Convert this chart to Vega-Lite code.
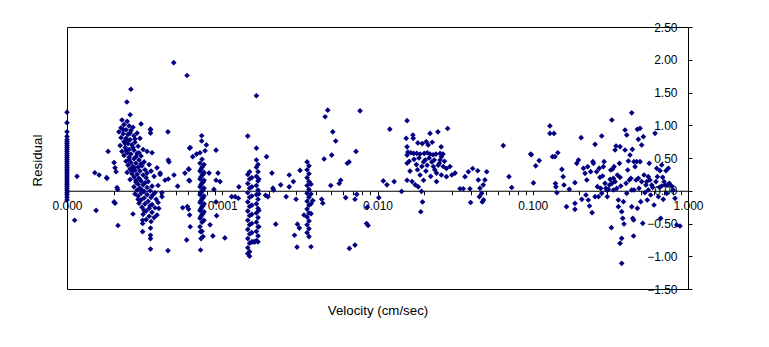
{
"$schema": "https://vega.github.io/schema/vega-lite/v6.json",
"width": 621, "height": 262,
"autosize": {"type": "none"},
"padding": {"left": 67, "top": 27, "right": 81, "bottom": 58},
"background": "white",
"config": {"view": {"stroke": "black", "strokeWidth": 1}, "font": "Liberation Sans"},
"data": {"values": [
{"vel":0.0001,"res":1.2},{"vel":0.0001,"res":1.04},{"vel":0.0001,"res":0.9},{"vel":0.0001,"res":0.83},{"vel":0.0001,"res":0.78},{"vel":0.0001,"res":0.75},{"vel":0.0001,"res":0.72},{"vel":0.0001,"res":0.69},{"vel":0.0001,"res":0.66},{"vel":0.0001,"res":0.63},{"vel":0.0001,"res":0.6},{"vel":0.0001,"res":0.57},{"vel":0.0001,"res":0.54},{"vel":0.0001,"res":0.51},{"vel":0.0001,"res":0.48},{"vel":0.0001,"res":0.45},{"vel":0.0001,"res":0.42},{"vel":0.0001,"res":0.39},{"vel":0.0001,"res":0.36},{"vel":0.0001,"res":0.33},{"vel":0.0001,"res":0.3},{"vel":0.0001,"res":0.27},{"vel":0.0001,"res":0.24},{"vel":0.0001,"res":0.21},{"vel":0.0001,"res":0.18},{"vel":0.0001,"res":0.15},{"vel":0.0001,"res":0.12},{"vel":0.0001,"res":0.09},{"vel":0.0001,"res":0.06},{"vel":0.0001,"res":0.03},{"vel":0.0001,"res":0.0},{"vel":0.0001,"res":-0.03},{"vel":0.0001,"res":-0.06},{"vel":0.0001,"res":-0.1},{"vel":0.0001,"res":-0.14},
{"vel":0.000116,"res":0.22},{"vel":0.000112,"res":-0.45},{"vel":0.000154,"res":-0.3},{"vel":0.000151,"res":0.275},{"vel":0.000161,"res":0.24},{"vel":0.000181,"res":0.19},{"vel":0.000184,"res":0.6},{"vel":0.000201,"res":0.43},{"vel":0.000204,"res":0.35},{"vel":0.000207,"res":0.29},{"vel":0.00021,"res":0.05},{"vel":0.000212,"res":0.02},{"vel":0.000201,"res":-0.17},{"vel":0.000204,"res":-0.19},{"vel":0.000213,"res":-0.53},{"vel":0.00018,"res":0.2},
{"vel":0.000226,"res":1.08},{"vel":0.000244,"res":1.06},{"vel":0.000233,"res":1.01},{"vel":0.000251,"res":0.99},{"vel":0.000223,"res":0.96},{"vel":0.000266,"res":0.97},{"vel":0.00024,"res":0.93},{"vel":0.000258,"res":0.92},{"vel":0.000216,"res":0.9},{"vel":0.00023,"res":0.87},{"vel":0.000283,"res":0.88},{"vel":0.000247,"res":0.86},{"vel":0.00027,"res":0.84},{"vel":0.000223,"res":0.81},{"vel":0.00024,"res":0.8},{"vel":0.000255,"res":0.78},{"vel":0.000295,"res":0.8},{"vel":0.000233,"res":0.75},{"vel":0.000274,"res":0.74},{"vel":0.000247,"res":0.72},{"vel":0.000262,"res":0.7},{"vel":0.00022,"res":0.69},{"vel":0.000287,"res":0.68},{"vel":0.000237,"res":0.66},{"vel":0.000251,"res":0.63},{"vel":0.00027,"res":0.62},{"vel":0.000226,"res":0.6},{"vel":0.000309,"res":0.63},{"vel":0.000244,"res":0.58},{"vel":0.000258,"res":0.56},{"vel":0.000283,"res":0.57},{"vel":0.000233,"res":0.54},{"vel":0.0003,"res":0.53},{"vel":0.000328,"res":0.6},{"vel":0.000353,"res":0.58},
{"vel":0.000251,"res":0.51},{"vel":0.00027,"res":0.49},{"vel":0.000291,"res":0.47},{"vel":0.00024,"res":0.45},{"vel":0.000258,"res":0.43},{"vel":0.000278,"res":0.42},{"vel":0.000314,"res":0.44},{"vel":0.000247,"res":0.39},{"vel":0.000266,"res":0.37},{"vel":0.000287,"res":0.36},{"vel":0.000304,"res":0.38},{"vel":0.000338,"res":0.4},{"vel":0.000255,"res":0.33},{"vel":0.000274,"res":0.31},{"vel":0.000295,"res":0.3},{"vel":0.000318,"res":0.32},{"vel":0.000244,"res":0.28},{"vel":0.000262,"res":0.26},{"vel":0.000283,"res":0.25},{"vel":0.000309,"res":0.24},{"vel":0.000348,"res":0.3},{"vel":0.00038,"res":0.35},{"vel":0.00027,"res":0.21},{"vel":0.000291,"res":0.19},{"vel":0.000323,"res":0.2},{"vel":0.000255,"res":0.17},{"vel":0.0003,"res":0.15},{"vel":0.000278,"res":0.13},{"vel":0.000333,"res":0.14},{"vel":0.000364,"res":0.22},{"vel":0.000398,"res":0.25},
{"vel":0.000287,"res":0.1},{"vel":0.000309,"res":0.09},{"vel":0.00027,"res":0.06},{"vel":0.000328,"res":0.05},{"vel":0.000295,"res":0.04},{"vel":0.000353,"res":0.07},{"vel":0.000283,"res":0.01},{"vel":0.000314,"res":-0.01},{"vel":0.000343,"res":0.0},{"vel":0.0003,"res":-0.04},{"vel":0.000328,"res":-0.06},{"vel":0.000369,"res":-0.03},{"vel":0.000287,"res":-0.08},{"vel":0.000314,"res":-0.11},{"vel":0.000348,"res":-0.1},{"vel":0.0003,"res":-0.14},{"vel":0.000333,"res":-0.16},{"vel":0.000375,"res":-0.13},{"vel":0.000291,"res":-0.19},{"vel":0.000318,"res":-0.2},{"vel":0.000353,"res":-0.21},{"vel":0.000304,"res":-0.25},{"vel":0.000338,"res":-0.27},{"vel":0.000369,"res":-0.26},{"vel":0.000323,"res":-0.31},{"vel":0.000353,"res":-0.33},{"vel":0.000309,"res":-0.36},{"vel":0.000338,"res":-0.39},{"vel":0.000364,"res":-0.41},{"vel":0.000323,"res":-0.44},{"vel":0.000348,"res":-0.47},{"vel":0.00038,"res":-0.37},{"vel":0.000386,"res":-0.18},{"vel":0.000274,"res":-0.05},{"vel":0.000278,"res":0.16},{"vel":0.000386,"res":0.08},
{"vel":0.00023,"res":0.93},{"vel":0.000255,"res":0.88},{"vel":0.000274,"res":0.79},{"vel":0.000244,"res":0.76},{"vel":0.000266,"res":0.66},{"vel":0.00024,"res":0.62},{"vel":0.000278,"res":0.52},{"vel":0.000251,"res":0.47},{"vel":0.0003,"res":0.41},{"vel":0.00027,"res":0.35},{"vel":0.000237,"res":0.72},{"vel":0.000291,"res":0.58},{"vel":0.000262,"res":0.3},{"vel":0.000318,"res":0.12},{"vel":0.000343,"res":-0.23},{"vel":0.000314,"res":-0.3},{"vel":0.000328,"res":0.27},{"vel":0.000304,"res":0.01},{"vel":0.000287,"res":-0.13},{"vel":0.000358,"res":-0.06},
{"vel":0.000258,"res":1.55},{"vel":0.000243,"res":1.355},{"vel":0.000255,"res":1.16},{"vel":0.000345,"res":0.93},{"vel":0.000345,"res":0.88},{"vel":0.000447,"res":0.9},{"vel":0.000449,"res":0.47},{"vel":0.000454,"res":0.44},{"vel":0.000489,"res":0.24},{"vel":0.000516,"res":0.07},{"vel":0.000428,"res":0.16},{"vel":0.000449,"res":0.18},{"vel":0.000398,"res":0.27},{"vel":0.000409,"res":-0.03},{"vel":0.000409,"res":-0.09},{"vel":0.00039,"res":-0.27},{"vel":0.000345,"res":-0.57},{"vel":0.000345,"res":-0.68},{"vel":0.000345,"res":-0.73},{"vel":0.000345,"res":-0.89},{"vel":0.000447,"res":-0.915},{"vel":0.000307,"res":-0.625},{"vel":0.000307,"res":-0.45},{"vel":0.000307,"res":-0.5},{"vel":0.000266,"res":-0.355},{"vel":0.000487,"res":1.955},{"vel":0.000593,"res":1.76},{"vel":0.0003,"res":1.02},{"vel":0.000345,"res":0.94},
{"vel":0.000719,"res":0.42},{"vel":0.000719,"res":0.3},{"vel":0.000719,"res":0.18},{"vel":0.000719,"res":0.06},{"vel":0.000719,"res":-0.06},{"vel":0.000719,"res":-0.18},{"vel":0.000719,"res":-0.3},{"vel":0.000719,"res":-0.42},{"vel":0.000719,"res":-0.55},
{"vel":0.000741,"res":0.48},{"vel":0.000741,"res":0.36},{"vel":0.000741,"res":0.24},{"vel":0.000741,"res":0.12},{"vel":0.000741,"res":0.0},{"vel":0.000741,"res":-0.12},{"vel":0.000741,"res":-0.24},{"vel":0.000741,"res":-0.36},{"vel":0.000741,"res":-0.48},{"vel":0.000741,"res":-0.62},
{"vel":0.000763,"res":0.4},{"vel":0.000763,"res":0.28},{"vel":0.000763,"res":0.16},{"vel":0.000763,"res":0.04},{"vel":0.000763,"res":-0.08},{"vel":0.000763,"res":-0.2},{"vel":0.000763,"res":-0.32},{"vel":0.000763,"res":-0.45},
{"vel":0.00073,"res":0.33},{"vel":0.00073,"res":0.21},{"vel":0.00073,"res":0.09},{"vel":0.00073,"res":-0.03},{"vel":0.00073,"res":-0.15},{"vel":0.00073,"res":-0.27},{"vel":0.00073,"res":-0.39},
{"vel":0.000752,"res":0.25},{"vel":0.000752,"res":0.13},{"vel":0.000752,"res":0.01},{"vel":0.000752,"res":-0.11},{"vel":0.000752,"res":-0.23},{"vel":0.000752,"res":-0.35},{"vel":0.000752,"res":-0.7},
{"vel":0.000616,"res":0.65},{"vel":0.000645,"res":0.52},{"vel":0.000683,"res":0.56},{"vel":0.000719,"res":0.58},{"vel":0.000737,"res":0.84},{"vel":0.000737,"res":0.76},{"vel":0.00079,"res":0.7},{"vel":0.000611,"res":0.33},{"vel":0.000611,"res":0.16},{"vel":0.000556,"res":-0.26},{"vel":0.000596,"res":-0.24},{"vel":0.000606,"res":-0.28},{"vel":0.000616,"res":-0.37},{"vel":0.000622,"res":-0.55},{"vel":0.00059,"res":-0.75},{"vel":0.000725,"res":-0.625},{"vel":0.00073,"res":-0.73},{"vel":0.000725,"res":-0.905},{"vel":0.000575,"res":0.27},{"vel":0.000606,"res":0.33},{"vel":0.000616,"res":0.15},{"vel":0.000622,"res":0.66},{"vel":0.000775,"res":0.61},{"vel":0.000912,"res":0.62},{"vel":0.000822,"res":0.27},{"vel":0.000884,"res":0.02},{"vel":0.000912,"res":-0.17},{"vel":0.000939,"res":0.27},{"vel":0.000912,"res":0.16},{"vel":0.000968,"res":0.14},{"vel":0.000834,"res":-0.52},{"vel":0.00087,"res":-0.69},{"vel":0.00092,"res":-0.38},{"vel":0.00104,"res":-0.72},{"vel":0.00115,"res":-0.09},{"vel":0.00121,"res":-0.09},{"vel":0.00127,"res":-0.115},{"vel":0.00128,"res":0.06},
{"vel":0.00146,"res":0.25},{"vel":0.00146,"res":0.11},{"vel":0.00146,"res":-0.03},{"vel":0.00146,"res":-0.17},{"vel":0.00146,"res":-0.31},{"vel":0.00146,"res":-0.45},{"vel":0.00146,"res":-0.59},{"vel":0.00146,"res":-0.73},{"vel":0.00146,"res":-0.87},{"vel":0.00146,"res":-0.96},
{"vel":0.0015,"res":0.29},{"vel":0.0015,"res":0.18},{"vel":0.0015,"res":0.04},{"vel":0.0015,"res":-0.1},{"vel":0.0015,"res":-0.24},{"vel":0.0015,"res":-0.38},{"vel":0.0015,"res":-0.52},{"vel":0.0015,"res":-0.66},{"vel":0.0015,"res":-0.8},{"vel":0.0015,"res":-0.93},{"vel":0.0015,"res":-1.0},
{"vel":0.00155,"res":0.2},{"vel":0.00155,"res":0.06},{"vel":0.00155,"res":-0.08},{"vel":0.00155,"res":-0.22},{"vel":0.00155,"res":-0.36},{"vel":0.00155,"res":-0.5},{"vel":0.00155,"res":-0.64},{"vel":0.00155,"res":-0.78},
{"vel":0.00166,"res":0.47},{"vel":0.00166,"res":0.36},{"vel":0.00166,"res":0.22},{"vel":0.00166,"res":0.08},{"vel":0.00166,"res":-0.06},{"vel":0.00166,"res":-0.2},{"vel":0.00166,"res":-0.34},{"vel":0.00166,"res":-0.48},{"vel":0.00166,"res":-0.62},{"vel":0.00166,"res":-0.76},
{"vel":0.0017,"res":0.4},{"vel":0.0017,"res":0.29},{"vel":0.0017,"res":0.15},{"vel":0.0017,"res":0.01},{"vel":0.0017,"res":-0.13},{"vel":0.0017,"res":-0.27},{"vel":0.0017,"res":-0.41},{"vel":0.0017,"res":-0.55},{"vel":0.0017,"res":-0.69},{"vel":0.0017,"res":-0.78},
{"vel":0.00172,"res":0.18},{"vel":0.00172,"res":-0.05},{"vel":0.00172,"res":-0.3},{"vel":0.00172,"res":-0.55},
{"vel":0.00158,"res":-0.78},{"vel":0.00162,"res":-0.78},
{"vel":0.00146,"res":0.835},{"vel":0.00166,"res":1.45},{"vel":0.00166,"res":0.65},
{"vel":0.00193,"res":0.52},{"vel":0.00209,"res":0.27},{"vel":0.00212,"res":0.04},{"vel":0.00214,"res":0.01},{"vel":0.00238,"res":0.09},{"vel":0.00221,"res":-0.51},{"vel":0.00258,"res":-0.09},{"vel":0.0027,"res":0.06},{"vel":0.0027,"res":0.24},{"vel":0.00287,"res":0.14},{"vel":0.00299,"res":-0.13},{"vel":0.00305,"res":-0.51},{"vel":0.00314,"res":-0.57},{"vel":0.00292,"res":-0.68},{"vel":0.00303,"res":-0.86},{"vel":0.00317,"res":0.31},{"vel":0.00197,"res":-0.09},{"vel":0.0019,"res":-0.07},
{"vel":0.00352,"res":0.44},{"vel":0.00352,"res":0.32},{"vel":0.00352,"res":0.2},{"vel":0.00352,"res":0.08},{"vel":0.00352,"res":-0.04},{"vel":0.00352,"res":-0.16},{"vel":0.00352,"res":-0.28},{"vel":0.00352,"res":-0.4},{"vel":0.00352,"res":-0.52},{"vel":0.00352,"res":-0.64},
{"vel":0.00362,"res":0.38},{"vel":0.00362,"res":0.26},{"vel":0.00362,"res":0.14},{"vel":0.00362,"res":0.02},{"vel":0.00362,"res":-0.1},{"vel":0.00362,"res":-0.22},{"vel":0.00362,"res":-0.34},{"vel":0.00362,"res":-0.46},{"vel":0.00362,"res":-0.58},{"vel":0.00362,"res":-0.7},
{"vel":0.00373,"res":0.1},{"vel":0.00373,"res":-0.05},{"vel":0.00373,"res":-0.2},{"vel":0.00373,"res":-0.35},{"vel":0.00373,"res":-0.855},
{"vel":0.00336,"res":-0.37},{"vel":0.00383,"res":-0.15},
{"vel":0.00437,"res":-0.13},{"vel":0.00444,"res":-0.19},{"vel":0.00453,"res":0.485},{"vel":0.0046,"res":1.13},{"vel":0.00478,"res":1.23},{"vel":0.00515,"res":0.9},{"vel":0.00538,"res":0.76},{"vel":0.00507,"res":0.545},{"vel":0.005,"res":0.08},{"vel":0.00567,"res":0.11},{"vel":0.00579,"res":0.16},{"vel":0.00639,"res":0.42},{"vel":0.00656,"res":0.44},{"vel":0.00624,"res":-0.105},{"vel":0.00727,"res":0.6},{"vel":0.00716,"res":-0.13},{"vel":0.00735,"res":-0.055},{"vel":0.00659,"res":-0.88},{"vel":0.00716,"res":-0.83},{"vel":0.00772,"res":1.22},{"vel":0.0086,"res":-0.25},{"vel":0.0085,"res":-0.5},{"vel":0.0087,"res":-0.53},{"vel":0.0109,"res":0.15},{"vel":0.0115,"res":0.09},{"vel":0.0102,"res":-0.105},{"vel":0.012,"res":0.94},{"vel":0.0128,"res":0.14},{"vel":0.0143,"res":-0.01},
{"vel":0.0155,"res":1.07},{"vel":0.0169,"res":0.85},{"vel":0.017,"res":0.8},{"vel":0.0153,"res":0.8},{"vel":0.0155,"res":0.67},{"vel":0.0155,"res":0.545},{"vel":0.0155,"res":0.42},
{"vel":0.0157,"res":0.59},{"vel":0.0164,"res":0.58},{"vel":0.0171,"res":0.57},{"vel":0.0179,"res":0.57},{"vel":0.0188,"res":0.56},{"vel":0.02,"res":0.57},{"vel":0.0209,"res":0.58},{"vel":0.0218,"res":0.56},{"vel":0.0228,"res":0.55},{"vel":0.0238,"res":0.56},{"vel":0.0253,"res":0.57},{"vel":0.0264,"res":0.56},
{"vel":0.0182,"res":0.73},{"vel":0.0194,"res":0.72},{"vel":0.0206,"res":0.75},{"vel":0.0212,"res":0.7},{"vel":0.0225,"res":0.74},
{"vel":0.0218,"res":0.875},{"vel":0.0245,"res":0.9},{"vel":0.0283,"res":0.95},{"vel":0.0257,"res":0.67},
{"vel":0.0181,"res":0.32},{"vel":0.0188,"res":0.24},{"vel":0.0198,"res":0.16},{"vel":0.0193,"res":0.37},{"vel":0.0203,"res":0.47},{"vel":0.0209,"res":0.39},{"vel":0.0224,"res":0.44},{"vel":0.0229,"res":0.37},{"vel":0.0234,"res":0.32},{"vel":0.024,"res":0.27},{"vel":0.0246,"res":0.39},{"vel":0.0253,"res":0.47},{"vel":0.0258,"res":0.52},{"vel":0.0265,"res":0.37},{"vel":0.0278,"res":0.34},{"vel":0.0293,"res":0.37},{"vel":0.0301,"res":0.24},{"vel":0.0316,"res":0.27},
{"vel":0.0155,"res":0.16},{"vel":0.0167,"res":0.14},{"vel":0.0175,"res":0.09},{"vel":0.0183,"res":0.06},{"vel":0.0192,"res":-0.01},{"vel":0.0195,"res":-0.17},{"vel":0.019,"res":-0.32},{"vel":0.024,"res":0.14},{"vel":0.0258,"res":0.24},{"vel":0.0278,"res":0.215},
{"vel":0.016,"res":0.45},{"vel":0.0172,"res":0.48},{"vel":0.0185,"res":0.5},{"vel":0.0198,"res":0.44},{"vel":0.0215,"res":0.5},{"vel":0.0232,"res":0.47},{"vel":0.025,"res":0.42},{"vel":0.027,"res":0.45},{"vel":0.0162,"res":0.3},{"vel":0.0178,"res":0.4},{"vel":0.0205,"res":0.3},{"vel":0.022,"res":0.22},
{"vel":0.034,"res":0.03},{"vel":0.0357,"res":0.03},{"vel":0.0394,"res":0.03},{"vel":0.0366,"res":0.215},{"vel":0.0385,"res":0.29},{"vel":0.041,"res":0.34},{"vel":0.0442,"res":0.305},{"vel":0.0446,"res":0.165},{"vel":0.0457,"res":0.04},{"vel":0.0469,"res":-0.04},{"vel":0.048,"res":0.09},{"vel":0.0492,"res":0.165},{"vel":0.0505,"res":0.29},{"vel":0.0482,"res":-0.14},{"vel":0.0473,"res":-0.17},{"vel":0.0398,"res":-0.18},{"vel":0.0453,"res":-0.09},
{"vel":0.0646,"res":0.69},{"vel":0.0703,"res":0.215},{"vel":0.0732,"res":0.05},{"vel":0.097,"res":0.56},{"vel":0.0979,"res":0.55},{"vel":0.101,"res":0.12},{"vel":0.1045,"res":0.38},{"vel":0.11,"res":0.46},{"vel":0.129,"res":0.99},{"vel":0.129,"res":0.875},{"vel":0.137,"res":0.875},{"vel":0.134,"res":0.52},{"vel":0.139,"res":0.52},{"vel":0.145,"res":0.58},{"vel":0.14,"res":0.11},{"vel":0.141,"res":0.06},{"vel":0.143,"res":-0.03},
{"vel":0.154,"res":0.327},{"vel":0.157,"res":0.215},{"vel":0.159,"res":0.088},{"vel":0.165,"res":-0.243},{"vel":0.172,"res":0.022},{"vel":0.187,"res":0.123},{"vel":0.187,"res":-0.192},{"vel":0.187,"res":-0.284},{"vel":0.192,"res":0.419},{"vel":0.197,"res":0.469},{"vel":0.205,"res":0.81},{"vel":0.207,"res":-0.131},{"vel":0.212,"res":0.342},{"vel":0.217,"res":0.266},{"vel":0.22,"res":-0.065},{"vel":0.223,"res":0.164},{"vel":0.226,"res":0.368},{"vel":0.228,"res":-0.141},{"vel":0.232,"res":-0.233},{"vel":0.236,"res":0.291},{"vel":0.241,"res":-0.335},{"vel":0.244,"res":0.444},{"vel":0.246,"res":0.419},{"vel":0.252,"res":0.709},{"vel":0.252,"res":-0.09},{"vel":0.258,"res":0.291},{"vel":0.261,"res":0.062},{"vel":0.265,"res":-0.09},{"vel":0.268,"res":0.342},{"vel":0.271,"res":0.205},{"vel":0.274,"res":0.037},{"vel":0.278,"res":0.836},{"vel":0.278,"res":-0.039},{"vel":0.282,"res":0.225},{"vel":0.285,"res":0.368},{"vel":0.288,"res":0.444},{"vel":0.292,"res":0.113},{"vel":0.296,"res":0.037},{"vel":0.3,"res":0.011},{"vel":0.302,"res":-0.09},{"vel":0.307,"res":0.022},{"vel":0.312,"res":0.088},{"vel":0.315,"res":0.174},{"vel":0.318,"res":0.317},{"vel":0.321,"res":-0.564},{"vel":0.323,"res":1.08},{"vel":0.324,"res":0.113},{"vel":0.327,"res":0.332},{"vel":0.331,"res":0.19},{"vel":0.331,"res":0.011},{"vel":0.334,"res":0.368},{"vel":0.339,"res":0.622},{"vel":0.339,"res":0.139},{"vel":0.344,"res":0.683},{"vel":0.348,"res":0.037},{"vel":0.351,"res":0.24},{"vel":0.356,"res":-0.141},{"vel":0.356,"res":-0.243},{"vel":0.362,"res":0.419},{"vel":0.365,"res":0.673},{"vel":0.365,"res":0.205},{"vel":0.369,"res":0.073},{"vel":0.374,"res":-0.319},{"vel":0.374,"res":-0.727},{"vel":0.38,"res":-0.421},{"vel":0.384,"res":-0.167},{"vel":0.387,"res":-0.508},{"vel":0.374,"res":-1.108},{"vel":0.365,"res":-0.803},{"vel":0.393,"res":0.622},{"vel":0.393,"res":0.927},{"vel":0.399,"res":0.113},{"vel":0.403,"res":0.851},{"vel":0.403,"res":-0.039},{"vel":0.409,"res":0.317},{"vel":0.413,"res":0.454},{"vel":0.419,"res":0.164},{"vel":0.423,"res":0.546},{"vel":0.428,"res":0.19},{"vel":0.434,"res":0.011},{"vel":0.434,"res":-0.243},{"vel":0.434,"res":1.19},{"vel":0.438,"res":0.632},{"vel":0.441,"res":-0.421},{"vel":0.446,"res":-0.447},{"vel":0.446,"res":-0.691},{"vel":0.449,"res":0.011},{"vel":0.449,"res":0.444},{"vel":0.456,"res":0.368},{"vel":0.463,"res":0.164},{"vel":0.467,"res":0.444},{"vel":0.472,"res":0.938},{"vel":0.472,"res":-0.269},{"vel":0.479,"res":0.19},{"vel":0.479,"res":0.785},{"vel":0.484,"res":0.037},{"vel":0.491,"res":0.953},{"vel":0.491,"res":0.444},{"vel":0.496,"res":-0.167},{"vel":0.503,"res":0.698},{"vel":0.503,"res":0.139},{"vel":0.511,"res":-0.498},{"vel":0.516,"res":0.826},{"vel":0.521,"res":0.24},{"vel":0.528,"res":-0.029},{"vel":0.536,"res":0.088},{"vel":0.542,"res":0.139},{"vel":0.547,"res":-0.141},{"vel":0.555,"res":0.215},{"vel":0.555,"res":0.011},{"vel":0.563,"res":0.419},{"vel":0.569,"res":0.164},{"vel":0.575,"res":-0.065},{"vel":0.584,"res":0.088},{"vel":0.592,"res":0.052},{"vel":0.604,"res":-0.218},{"vel":0.613,"res":0.877},{"vel":0.622,"res":0.139},{"vel":0.629,"res":0.342},{"vel":0.635,"res":0.215},{"vel":0.645,"res":-0.09},{"vel":0.655,"res":0.052},{"vel":0.66,"res":0.307},{"vel":0.667,"res":-0.421},{"vel":0.677,"res":0.393},{"vel":0.677,"res":0.073},{"vel":0.687,"res":0.205},{"vel":0.693,"res":-0.131},{"vel":0.701,"res":0.139},{"vel":0.711,"res":0.088},{"vel":0.722,"res":0.307},{"vel":0.729,"res":-0.039},{"vel":0.737,"res":0.088},{"vel":0.747,"res":0.342},{"vel":0.758,"res":0.113},{"vel":0.785,"res":0.073},{"vel":0.804,"res":0.011},{"vel":0.825,"res":-0.116},{"vel":0.846,"res":-0.523},{"vel":0.888,"res":-0.538}
]},
"mark": {"type": "point", "shape": "diamond", "filled": true, "size": 32, "color": "#000080", "opacity": 1},
"encoding": {
"x": {"field": "vel", "type": "quantitative",
"scale": {"type": "log", "domain": [0.0001, 1], "nice": false},
"axis": {"title": "Velocity (cm/sec)",
"values": [0.0001,0.0002,0.0003,0.0004,0.0005,0.0006,0.0007,0.0008,0.0009,0.001,0.002,0.003,0.004,0.005,0.006,0.007,0.008,0.009,0.01,0.02,0.03,0.04,0.05,0.06,0.07,0.08,0.09,0.1,0.2,0.3,0.4,0.5,0.6,0.7,0.8,0.9,1],
"labelExpr": "indexof([0.0001,0.001,0.01,0.1,1], datum.value) >= 0 ? format(datum.value, '.3f') : ''",
"offset": -98.25, "tickSize": 4, "tickColor": "black", "domainColor": "black", "domainWidth": 1, "tickWidth": 1,
"labelColor": "black", "labelFontSize": 12, "labelPadding": 6, "labelFlush": false, "labelOverlap": false, "grid": false,
"titleFontSize": 13.3, "titleFontWeight": "normal", "titleColor": "black", "titleY": 124, "titleBaseline": "alphabetic"}},
"y": {"field": "res", "type": "quantitative",
"scale": {"domain": [-1.5, 2.5], "nice": false, "zero": false},
"axis": {"orient": "right", "title": "Residual", "values": [-1.5,-1,-0.5,0,0.5,1,1.5,2,2.5], "format": ".2f",
"domain": false, "tickSize": 4, "tickColor": "black", "tickWidth": 1, "labelAlign": "right", "labelPadding": -15,
"labelFontSize": 12, "labelColor": "black", "labelFlush": false, "labelBaseline": "middle", "labelOverlap": false, "grid": false,
"titleAngle": -90, "titleX": -650.5, "titleY": 133, "titleAlign": "center", "titleBaseline": "middle",
"titleFontWeight": "normal", "titleFontSize": 13.3, "titleColor": "black"}}
}
}
